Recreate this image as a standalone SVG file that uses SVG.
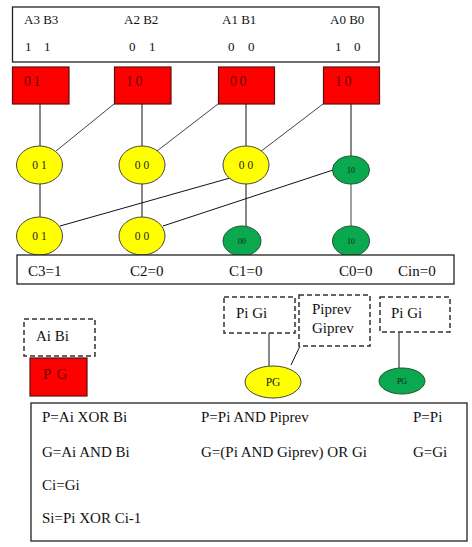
<svg xmlns="http://www.w3.org/2000/svg" width="472" height="547" viewBox="0 0 472 547">
<style>
text{font-family:"Liberation Serif","Times New Roman",serif;fill:#111}
.t13{font-size:13px}
.t15{font-size:15px}
.box{fill:#fff;stroke:#222;stroke-width:1.3}
.dash{fill:#fff;stroke:#333;stroke-width:1.5;stroke-dasharray:5,3}
.red{fill:#ff0000;stroke:#5a1010;stroke-width:1.2}
.rt{font-size:14px;fill:#6a0000;letter-spacing:2.5px}
.yel{fill:#ffff00;stroke:#444;stroke-width:1}
.grn{fill:#0aa84f;stroke:#225533;stroke-width:1}
.yt{font-size:11.5px;fill:#222}
.gt{font-size:8px;fill:#112211}
.ln{stroke:#111;stroke-width:1;fill:none}
.dl{stroke:#444;stroke-width:1;fill:none}
</style>
<rect width="472" height="547" fill="#fff"/>

<g id="inputs">
<rect class="box" x="12.5" y="7" width="366.5" height="55"/>
<text class="t13" x="24" y="24">A3 B3</text>
<text class="t13" x="124" y="24">A2 B2</text>
<text class="t13" x="222" y="24">A1 B1</text>
<text class="t13" x="330" y="24">A0 B0</text>
<text class="t13" x="25" y="51">1</text><text class="t13" x="44" y="51">1</text>
<text class="t13" x="129" y="51">0</text><text class="t13" x="149" y="51">1</text>
<text class="t13" x="228" y="51">0</text><text class="t13" x="248" y="51">0</text>
<text class="t13" x="335" y="51">1</text><text class="t13" x="354" y="51">0</text>
</g>

<g id="connectors">
<line class="ln" x1="40" y1="104" x2="40" y2="146"/>
<line class="ln" x1="142" y1="104" x2="142" y2="146"/>
<line class="ln" x1="246" y1="104" x2="246" y2="146"/>
<line class="ln" x1="351" y1="104" x2="351" y2="156"/>
<line class="dl" x1="114" y1="104" x2="56" y2="151"/>
<line class="dl" x1="218" y1="104" x2="157" y2="151"/>
<line class="dl" x1="323" y1="104" x2="260" y2="152"/>
<line class="ln" x1="40" y1="184" x2="40" y2="217"/>
<line class="ln" x1="142" y1="184" x2="142" y2="217"/>
<line class="ln" x1="246" y1="184" x2="246" y2="226"/>
<line class="dl" x1="351" y1="184" x2="351" y2="226"/>
<line class="ln" x1="230" y1="178" x2="60" y2="226"/>
<line class="ln" x1="333" y1="170" x2="163" y2="226"/>
<line class="ln" x1="269" y1="333" x2="269" y2="366"/>
<line class="ln" x1="300" y1="346" x2="291" y2="365"/>
<line class="ln" x1="399" y1="332" x2="399" y2="368"/>
</g>

<g id="pg3"><rect class="red" x="12.5" y="67" width="56.5" height="37"/><text class="rt" x="24" y="86">01</text></g>
<g id="pg2"><rect class="red" x="114.5" y="67" width="56.5" height="37"/><text class="rt" x="126" y="86">10</text></g>
<g id="pg1"><rect class="red" x="218.5" y="67" width="56" height="37"/><text class="rt" x="230" y="86">00</text></g>
<g id="pg0"><rect class="red" x="323.5" y="67" width="56" height="37"/><text class="rt" x="335" y="86">10</text></g>

<g id="y13"><ellipse class="yel" cx="39.5" cy="165" rx="23" ry="19"/><text class="yt" x="39.5" y="169" text-anchor="middle">0 1</text></g>
<g id="y12"><ellipse class="yel" cx="142" cy="165" rx="23" ry="19"/><text class="yt" x="142" y="169" text-anchor="middle">0 0</text></g>
<g id="y11"><ellipse class="yel" cx="246" cy="165" rx="23" ry="19"/><text class="yt" x="246" y="169" text-anchor="middle">0 0</text></g>
<g id="g10"><ellipse class="grn" cx="351" cy="170" rx="18.5" ry="14"/><text class="gt" x="351" y="173" text-anchor="middle">10</text></g>

<g id="y23"><ellipse class="yel" cx="39.5" cy="236" rx="23" ry="19"/><text class="yt" x="39.5" y="240" text-anchor="middle">0 1</text></g>
<g id="y22"><ellipse class="yel" cx="142" cy="236" rx="23" ry="19"/><text class="yt" x="142" y="240" text-anchor="middle">0 0</text></g>
<g id="g21"><ellipse class="grn" cx="242" cy="241" rx="19" ry="15"/><text class="gt" x="242" y="244" text-anchor="middle">00</text></g>
<g id="g20"><ellipse class="grn" cx="351" cy="241" rx="18.5" ry="15"/><text class="gt" x="351" y="244" text-anchor="middle">10</text></g>

<g id="carries">
<rect class="box" x="17" y="255" width="437" height="29"/>
<text class="t15" x="28" y="276">C3=1</text>
<text class="t15" x="130" y="276">C2=0</text>
<text class="t15" x="229" y="276">C1=0</text>
<text class="t15" x="339" y="276">C0=0</text>
<text class="t15" x="398" y="276">Cin=0</text>
</g>

<g id="legend-ab"><rect class="dash" x="24" y="319" width="71" height="37"/><text class="t15" x="36" y="341">Ai Bi</text></g>
<g id="legend-red"><rect class="red" x="30" y="358" width="57" height="38"/><text class="rt" x="43" y="379" style="font-size:15px;letter-spacing:1px">P G</text></g>
<g id="legend-pigi1"><rect class="dash" x="224" y="297" width="71" height="36"/><text class="t15" x="236" y="318">Pi Gi</text></g>
<g id="legend-prev"><rect class="dash" x="299" y="295" width="71" height="51"/><text class="t15" x="312" y="314">Piprev</text><text class="t15" x="312" y="333">Giprev</text></g>
<g id="legend-pigi2"><rect class="dash" x="380" y="297" width="70" height="35"/><text class="t15" x="391" y="318">Pi Gi</text></g>
<g id="legend-yel"><ellipse class="yel" cx="273" cy="382" rx="28" ry="16"/><text class="yt" x="273" y="386" text-anchor="middle">PG</text></g>
<g id="legend-grn"><ellipse class="grn" cx="402" cy="381" rx="23" ry="13"/><text class="gt" x="402" y="384" text-anchor="middle">PG</text></g>

<g id="equations">
<rect class="box" x="31" y="403" width="436" height="138"/>
<text class="t15" x="42" y="422">P=Ai XOR Bi</text>
<text class="t15" x="201" y="422">P=Pi AND Piprev</text>
<text class="t15" x="413" y="422">P=Pi</text>
<text class="t15" x="42" y="457">G=Ai AND Bi</text>
<text class="t15" x="201" y="457">G=(Pi AND Giprev) OR Gi</text>
<text class="t15" x="413" y="457">G=Gi</text>
<text class="t15" x="42" y="490">Ci=Gi</text>
<text class="t15" x="42" y="523">Si=Pi XOR Ci-1</text>
</g>
</svg>
